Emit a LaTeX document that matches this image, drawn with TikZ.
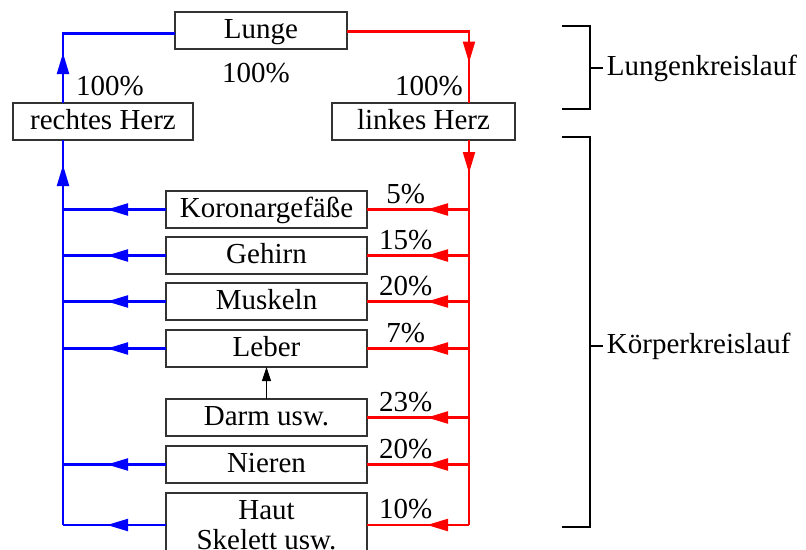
\documentclass[tikz,border=0pt]{standalone}
\usepackage{fontspec}
\setmainfont{Liberation Serif}
\usetikzlibrary{positioning,arrows.meta,decorations.markings}

\tikzset{
  rahmen/.style={rectangle, draw=black!80, line width=1.3pt, inner sep=0pt, outer sep=0pt},
  kasten/.style={rahmen, minimum height=37pt, text height=21pt, text depth=5pt},
  organ/.style={kasten, minimum width=201pt},
  venoes/.style={blue, line width=2.2pt},
  arteriell/.style={red, line width=2.2pt},
  pfeilan/.style={postaction={decorate}, decoration={markings, mark=at position #1 with {\arrow{Triangle[length=21pt,width=12pt]}}}},
  prozent/.style={above=4pt, inner sep=1pt, text=black},
  klammer/.style={black, line width=1.2pt},
}

\begin{document}
\begin{tikzpicture}[x=1pt, y=-1pt, font=\fontsize{29}{30}\selectfont]
\useasboundingbox (0,0) rectangle (806,549);

% Herz und Lunge
\node[kasten, minimum width=172pt] (lunge) at (261,30.5) {Lunge};
\node[kasten, minimum width=180pt] (rherz) at (103,121.5) {rechtes Herz};
\node[kasten, minimum width=183pt] (lherz) at (423.5,121.5) {linkes Herz};

% Organe
\node[organ] (koronar) at (266.5,209.5) {Koronargefäße};
\node[organ, below=9pt of koronar] (gehirn) {Gehirn};
\node[organ, below=9pt of gehirn] (muskeln) {Muskeln};
\node[organ, below=10pt of muskeln] (leber) {Leber};
\node[organ, below=32pt of leber] (darm) {Darm usw.};
\node[organ, below=10pt of darm] (nieren) {Nieren};
\node[rahmen, below=10pt of nieren, minimum width=201pt, minimum height=64pt, align=center] (haut) {Haut\\Skelett usw.};

% Stammleitungen
\coordinate (vl) at (63,0);
\coordinate (al) at (469,0);
\coordinate (lw) at ([yshift=-3pt]lunge.west);
\coordinate (le) at ([yshift=-1pt]lunge.east);

\draw[venoes, pfeilan=50pt] (rherz.north -| vl) -- (vl |- lw) -- (lw);
\draw[venoes, pfeilan=360pt] (haut.west -| vl) -- (rherz.south -| vl);
\draw[arteriell, pfeilan=153pt] (le) -- (al |- le) -- (lherz.north -| al);
\draw[arteriell, pfeilan=33pt] (lherz.south -| al) -- (haut.east -| al);

% Abzweigungen
\draw[venoes, pfeilan=59pt] (koronar.west) -- (koronar.west -| vl);
\draw[venoes, pfeilan=59pt] (gehirn.west) -- (gehirn.west -| vl);
\draw[venoes, pfeilan=59pt] (muskeln.west) -- (muskeln.west -| vl);
\draw[venoes, pfeilan=59pt] (leber.west) -- (leber.west -| vl);
\draw[venoes, pfeilan=59pt] (nieren.west) -- (nieren.west -| vl);
\draw[venoes, pfeilan=59pt] (haut.west) -- (haut.west -| vl);

\draw[arteriell, pfeilan=42pt] (koronar.east -| al) -- node[prozent, pos=0.62] (pk) {5\%} (koronar.east);
\draw[arteriell, pfeilan=42pt] (gehirn.east -| al) -- node[prozent, pos=0.62] (pg) {15\%} (gehirn.east);
\draw[arteriell, pfeilan=42pt] (muskeln.east -| al) -- node[prozent, pos=0.62] (pm) {20\%} (muskeln.east);
\draw[arteriell, pfeilan=42pt] (leber.east -| al) -- node[prozent, pos=0.62] (pl) {7\%} (leber.east);
\draw[arteriell, pfeilan=42pt] (darm.east -| al) -- node[prozent, pos=0.62] (pd) {23\%} (darm.east);
\draw[arteriell, pfeilan=42pt] (nieren.east -| al) -- node[prozent, pos=0.62] (pn) {20\%} (nieren.east);
\draw[arteriell, pfeilan=42pt] (haut.east -| al) -- node[prozent, pos=0.62] (ph) {10\%} (haut.east);

\draw[line width=1pt, -{Triangle[length=14pt,width=9pt]}] (darm.north) -- (leber.south);

% Anteile
\node[anchor=base] (prh) at (110,95) {100\%};
\node[anchor=base] (plu) at (256,82) {100\%};
\node[anchor=base] (plh) at (429,95) {100\%};

% Klammern
\draw[klammer] (562,26) -- (590,26) -- (590,109) -- (562,109);
\draw[klammer] (590,68) -- (603,68) node[right] (lkl) {Lungenkreislauf};
\draw[klammer] (562,137) -- (590,137) -- (590,527) -- (562,527);
\draw[klammer] (590,346) -- (603,346) node[right] (kkl) {Körperkreislauf};
\end{tikzpicture}
\end{document}
